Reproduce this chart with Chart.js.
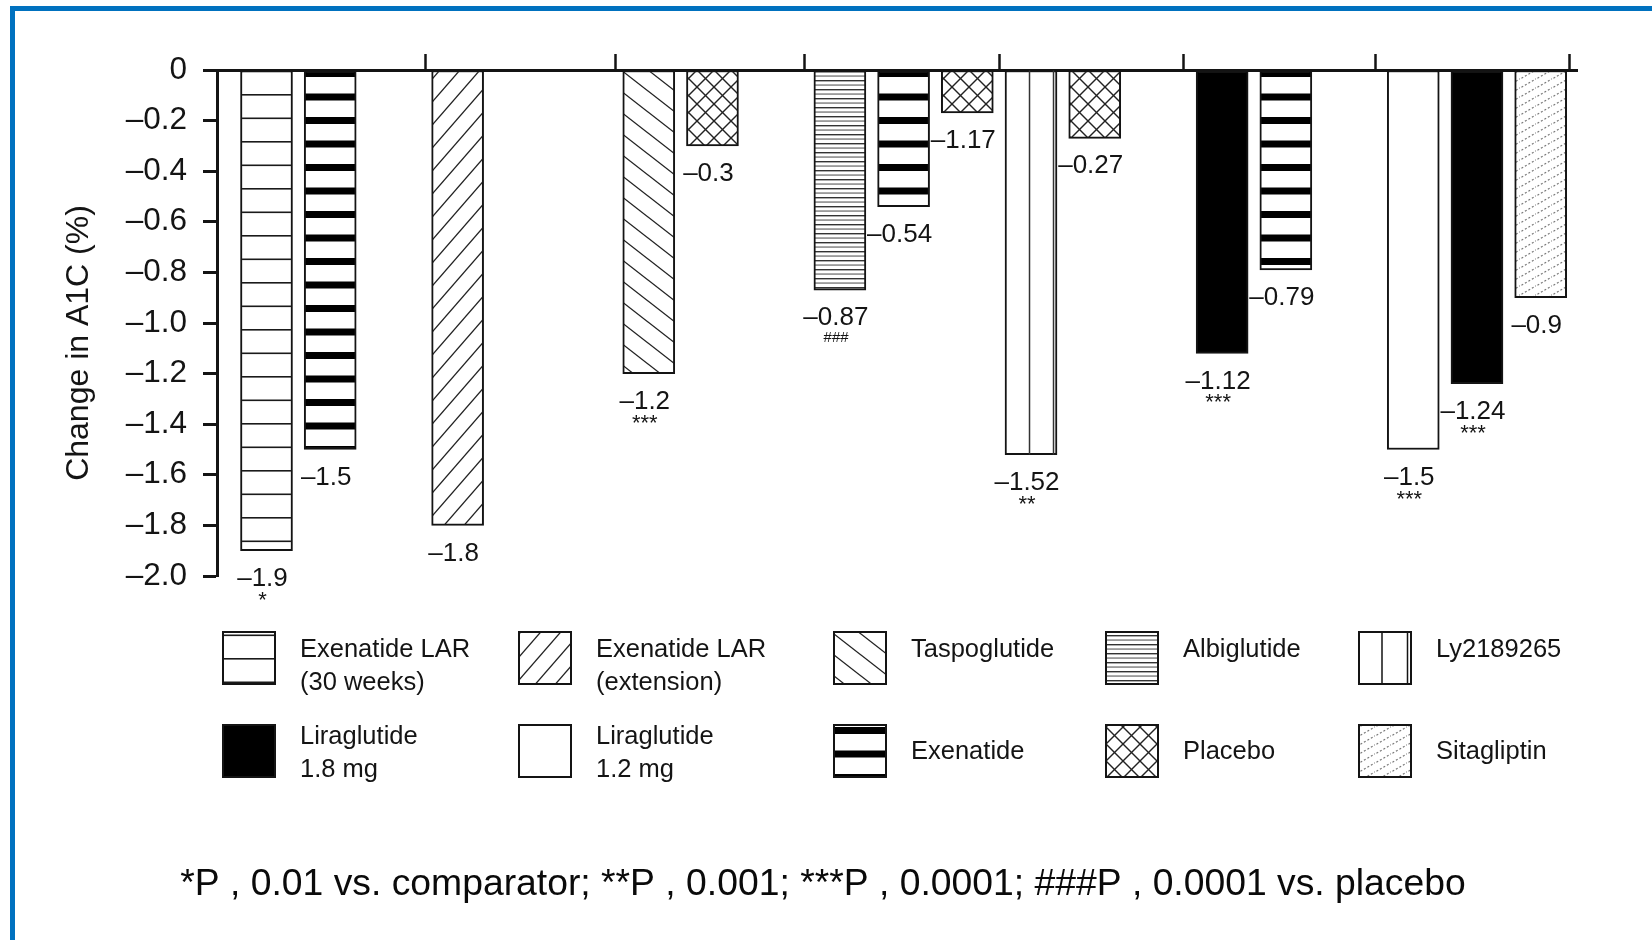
<!DOCTYPE html>
<html>
<head>
<meta charset="utf-8">
<script src="https://cdn.jsdelivr.net/npm/chart.js@4.4.1/dist/chart.umd.min.js"></script>
<style>
  html, body { margin: 0; padding: 0; background: #fff; }
  #wrap { position: relative; width: 1652px; height: 940px; overflow: hidden; background: #fff; }
  #c { position: absolute; left: 0; top: 0; }
  #frame {
    position: absolute; left: 10px; top: 6px; right: 0; bottom: 0;
    border-top: 5px solid #0071bf; border-left: 5px solid #0071bf;
    pointer-events: none;
  }
</style>
</head>
<body>
<div id="wrap">
  <canvas id="c" width="1652" height="940"></canvas>
  <div id="frame"></div>
</div>
<script>
// ---- data -------------------------------------------------------------
// slot position of each bar along the x axis (three slots per trial group)
const barSlots = [0, 1, 3, 6, 7, 9, 10, 11, 12, 13, 15, 16, 18, 19, 20];
// treatment of each bar
const barTreatment = ['lar30', 'exenatide', 'larExt', 'taspo', 'placebo',
  'albi', 'exenatide', 'placebo', 'ly', 'placebo',
  'lira18', 'exenatide', 'lira12', 'lira18', 'sita'];
// change in A1C (%)
const a1cChange = [-1.9, -1.5, -1.8, -1.2, -0.3,
  -0.87, -0.54, -0.17, -1.52, -0.27,
  -1.12, -0.79, -1.5, -1.24, -0.9];
// value labels as printed under each bar
const valueText = ['–1.9', '–1.5', '–1.8', '–1.2', '–0.3',
  '–0.87', '–0.54', '–1.17', '–1.52', '–0.27',
  '–1.12', '–0.79', '–1.5', '–1.24', '–0.9'];
// significance marks
const significance = ['*', '', '', '***', '', '###', '', '', '**', '', '***', '', '***', '***', ''];
// boundaries between trial groups (x-axis tick marks)
const groupEdges = [2.49, 5.48, 8.44, 11.51, 14.4, 17.4, 20.46];
// y axis ticks
const yTickValues = [0, -0.2, -0.4, -0.6, -0.8, -1.0, -1.2, -1.4, -1.6, -1.8, -2.0];
const yTickLabels = ['0', '–0.2', '–0.4', '–0.6', '–0.8', '–1.0', '–1.2', '–1.4', '–1.6', '–1.8', '–2.0'];
// treatments (legend order)
const treatmentKeys = ['lar30', 'larExt', 'taspo', 'albi', 'ly', 'lira18', 'lira12', 'exenatide', 'placebo', 'sita'];
const treatmentNames = ['Exenatide LAR (30 weeks)', 'Exenatide LAR (extension)', 'Taspoglutide', 'Albiglutide',
  'Ly2189265', 'Liraglutide 1.8 mg', 'Liraglutide 1.2 mg', 'Exenatide', 'Placebo', 'Sitagliptin'];
const legendLines = [['Exenatide LAR', '(30 weeks)'], ['Exenatide LAR', '(extension)'], ['Taspoglutide'],
  ['Albiglutide'], ['Ly2189265'], ['Liraglutide', '1.8 mg'], ['Liraglutide', '1.2 mg'],
  ['Exenatide'], ['Placebo'], ['Sitagliptin']];
const yTitle = 'Change in A1C (%)';
const footnote = '*P , 0.01 vs. comparator; **P , 0.001; ***P , 0.0001; ###P , 0.0001 vs. placebo';

// ---- fills ------------------------------------------------------------
const FONT = '"Liberation Sans", Arial, Helvetica, sans-serif';
const INK = '#141414';
const canvas = document.getElementById('c');
const ctx0 = canvas.getContext('2d');

function makePattern(w, h, paint) {
  const c = document.createElement('canvas');
  c.width = w; c.height = h;
  const g = c.getContext('2d');
  g.fillStyle = '#fff';
  g.fillRect(0, 0, w, h);
  paint(g, w, h);
  return ctx0.createPattern(c, 'repeat');
}
function diagonal(g, w, h, dir, width, color, dash) {
  g.save();
  g.strokeStyle = color;
  g.lineWidth = width;
  if (dash) g.setLineDash(dash);
  for (let n = -1; n <= 1; n++) {
    g.beginPath();
    if (dir > 0) {
      g.moveTo(-w, h * (1 + n) + h);
      g.lineTo(2 * w, h * (1 + n) - 2 * h);
    } else {
      g.moveTo(-w, h * n - h);
      g.lineTo(2 * w, h * n + 2 * h);
    }
    g.stroke();
  }
  g.restore();
}

const fills = {
  lar30: makePattern(4, 47, g => {
    g.fillStyle = '#1a1a1a';
    g.fillRect(0, 0.5, 4, 1.6);
    g.fillRect(0, 24, 4, 1.6);
  }),
  larExt: makePattern(20, 23, (g, w, h) => diagonal(g, w, h, 1, 1.3, '#222')),
  taspo: makePattern(27, 21, (g, w, h) => diagonal(g, w, h, -1, 1.3, '#222')),
  albi: makePattern(4, 9, g => {
    g.fillStyle = '#333';
    g.fillRect(0, 1, 4, 1.4);
    g.fillStyle = '#5a5a5a';
    g.fillRect(0, 5.5, 4, 1.1);
  }),
  ly: '#ffffff',
  lira18: '#000000',
  lira12: '#ffffff',
  exenatide: makePattern(4, 47, g => {
    g.fillStyle = '#000';
    g.fillRect(0, 0, 4, 7);
    g.fillRect(0, 23.5, 4, 7);
  }),
  placebo: makePattern(17, 17, (g, w, h) => {
    diagonal(g, w, h, 1, 1.4, '#222');
    diagonal(g, w, h, -1, 1.4, '#222');
  }),
  sita: makePattern(16, 9, (g, w, h) => diagonal(g, w, h, 1, 1.2, '#777', [2, 2]))
};

function anchor(fill, x, y) {
  if (fill instanceof CanvasPattern) fill.setTransform(new DOMMatrix([1, 0, 0, 1, x, y]));
}

// ---- datasets ---------------------------------------------------------
const datasets = treatmentKeys.map((key, t) => {
  const idx = barTreatment.map((k, i) => (k === key ? i : -1)).filter(i => i >= 0);
  return {
    label: treatmentNames[t],
    key: key,
    barIndex: idx,
    data: idx.map(i => ({ x: barSlots[i], y: a1cChange[i] })),
    backgroundColor: fills[key],
    borderColor: INK,
    borderWidth: 2,
    borderSkipped: false,
    grouped: false,
    barThickness: 52
  };
});

// ---- drawing helpers --------------------------------------------------
const annotations = {
  id: 'annotations',
  beforeDatasetsDraw(chart) {
    const y0 = chart.scales.y.getPixelForValue(0);
    Object.values(fills).forEach(f => anchor(f, 0, y0));
  },
  afterDatasetsDraw(chart) {
    const ctx = chart.ctx;
    ctx.save();
    chart.data.datasets.forEach((ds, d) => {
      const meta = chart.getDatasetMeta(d);
      meta.data.forEach((bar, j) => {
        const i = ds.barIndex[j];
        const top = Math.min(bar.y, bar.base), bottom = Math.max(bar.y, bar.base);
        if (ds.key === 'ly') {
          ctx.strokeStyle = '#333';
          ctx.lineWidth = 1.5;
          ctx.beginPath();
          ctx.moveTo(bar.x - 1.5, top);
          ctx.lineTo(bar.x - 1.5, bottom);
          ctx.moveTo(bar.x + bar.width / 2 - 3.5, top);
          ctx.lineTo(bar.x + bar.width / 2 - 3.5, bottom);
          ctx.stroke();
        }
        const cx = bar.x - 4;
        const cy = bottom + 28;
        ctx.fillStyle = INK;
        ctx.textAlign = 'center';
        ctx.textBaseline = 'middle';
        ctx.font = '26px ' + FONT;
        ctx.fillText(valueText[i], cx, cy);
        if (significance[i]) {
          const hash = significance[i].startsWith('#');
          ctx.font = (hash ? 'italic 15px ' : '22px ') + FONT;
          ctx.fillText(significance[i], cx, cy + (hash ? 20 : 22));
        }
      });
    });
    ctx.restore();
  },
  afterDraw(chart) {
    const ctx = chart.ctx;
    const area = chart.chartArea;
    ctx.save();

    // y axis title
    ctx.fillStyle = INK;
    ctx.font = '32px ' + FONT;
    ctx.textAlign = 'center';
    ctx.textBaseline = 'middle';
    ctx.translate(79, (area.top + area.bottom) / 2 + 20);
    ctx.rotate(-Math.PI / 2);
    ctx.fillText(yTitle, 0, 0);
    ctx.setTransform(1, 0, 0, 1, 0, 0);

    // legend: two rows of five swatches
    const cols = [223, 519, 834, 1106, 1359];
    const rowTop = [632, 725];
    const lineY = [[18, 51], [12, 45]];
    const singleY = [18, 27];
    const sw = 52;
    treatmentKeys.forEach((key, t) => {
      const r = Math.floor(t / 5), c = t % 5;
      const x = cols[c], y = rowTop[r];
      const fill = fills[key];
      anchor(fill, x, y + 2);
      ctx.fillStyle = fill;
      ctx.fillRect(x, y, sw, sw);
      ctx.strokeStyle = INK;
      ctx.lineWidth = 2;
      ctx.strokeRect(x, y, sw, sw);
      if (key === 'ly') {
        ctx.lineWidth = 1.5;
        ctx.beginPath();
        ctx.moveTo(x + 23, y); ctx.lineTo(x + 23, y + sw);
        ctx.moveTo(x + sw - 3.5, y); ctx.lineTo(x + sw - 3.5, y + sw);
        ctx.stroke();
      }
      ctx.fillStyle = INK;
      ctx.font = '25.5px ' + FONT;
      ctx.textAlign = 'left';
      ctx.textBaseline = 'middle';
      const lines = legendLines[t];
      if (lines.length === 1) {
        ctx.fillText(lines[0], x + 77, y + singleY[r]);
      } else {
        lines.forEach((s, k) => ctx.fillText(s, x + 77, y + lineY[r][k]));
      }
    });

    // footnote
    ctx.fillStyle = '#0a0a0a';
    ctx.font = '37.3px ' + FONT;
    ctx.textAlign = 'center';
    ctx.textBaseline = 'middle';
    ctx.fillText(footnote, 823, 885);
    ctx.restore();
  }
};

// ---- chart ------------------------------------------------------------
new Chart(canvas, {
  type: 'bar',
  data: { datasets },
  plugins: [annotations],
  options: {
    responsive: false,
    animation: false,
    devicePixelRatio: 1,
    layout: { padding: { left: 0, top: 54, right: 75, bottom: 364 } },
    plugins: {
      legend: { display: false },
      tooltip: { enabled: false }
    },
    scales: {
      x: {
        type: 'linear',
        position: 'top',
        min: -0.777,
        max: 20.57,
        offset: false,
        afterBuildTicks: s => { s.ticks = groupEdges.map(v => ({ value: v })); },
        ticks: { display: false },
        grid: {
          offset: false,
          drawOnChartArea: false,
          drawTicks: true,
          tickLength: 16,
          tickWidth: 2.5,
          tickColor: INK
        },
        border: { display: true, color: INK, width: 3 }
      },
      y: {
        min: -2,
        max: 0,
        afterBuildTicks: s => { s.ticks = yTickValues.map(v => ({ value: v })); },
        afterFit: s => { s.width = 217; },
        ticks: {
          callback: (v, i) => yTickLabels[i],
          color: INK,
          padding: 16,
          font: { family: FONT, size: 31.5 }
        },
        grid: {
          drawOnChartArea: false,
          drawTicks: true,
          tickLength: 14,
          tickWidth: 3,
          tickColor: INK
        },
        border: { display: true, color: INK, width: 3 }
      }
    }
  }
});
</script>
</body>
</html>
